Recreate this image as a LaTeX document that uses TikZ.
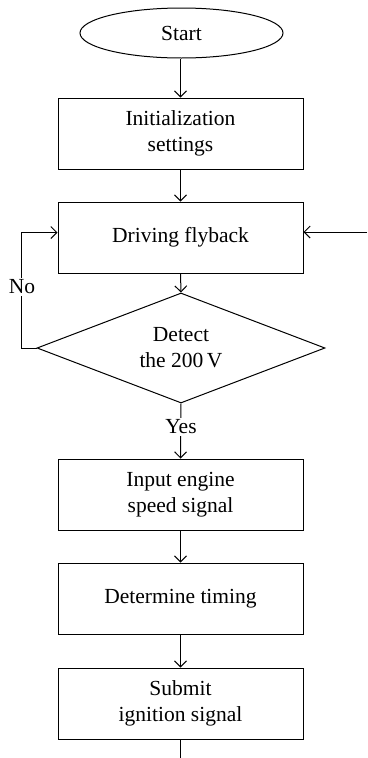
\documentclass[tikz,border=0pt]{standalone}
\usepackage{fontspec}
\setmainfont{Liberation Serif}
\usetikzlibrary{shapes.geometric,arrows.meta}
\begin{document}
\begin{tikzpicture}[x=1pt,y=-1pt,
  every node/.style={font=\fontsize{21.5}{26}\selectfont, align=center, inner sep=0pt},
  box/.style={draw, line width=1pt, minimum width=245pt, minimum height=71pt},
  term/.style={draw, ellipse, line width=1pt, minimum width=203pt, minimum height=50pt},
  decide/.style={draw, diamond, line width=1pt, aspect=2.62, minimum width=288pt, minimum height=110pt},
  conn/.style={line width=1pt, -{Straight Barb[length=6pt,width=12pt]}},
  lbl/.style={fill=white, inner sep=2pt}]
\useasboundingbox (0,0) rectangle (367,758);
\node[term] (start) at (181.5,33) {Start};
\node[box] (init) at (180.5,133.5) {Initialization\\settings};
\node[box] (drive) at (180.5,237.5) {Driving flyback};
\node[decide] (dec) at (181,348) {Detect\\the 200\,V};
\node[box] (input) at (180.5,494.5) {Input engine\\speed signal};
\node[box] (det) at (180.5,598.5) {Determine timing};
\node[box] (sub) at (180.5,703.5) {Submit\\ignition signal};
\coordinate (rin) at (367,232);
\coordinate (bot) at (180.5,758);
\draw[conn] (start.south -| init.north) -- (init.north);
\draw[conn] (init) -- (drive);
\draw[conn] (drive.south) -- (dec.north);
\draw[conn] (dec.west) -- ++(-15,0) |- ([yshift=5pt]drive.west);
\draw[conn] (rin) -- (rin -| drive.east);
\draw[conn] (dec.south) -- (input.north);
\draw[conn] (input) -- (det);
\draw[conn] (det) -- (sub);
\draw[line width=1pt] (sub.south) -- (bot);
\node[lbl] (no) at (22,287) {No};
\node[lbl] (yes) at (181,427) {Yes};
\end{tikzpicture}
\end{document}
